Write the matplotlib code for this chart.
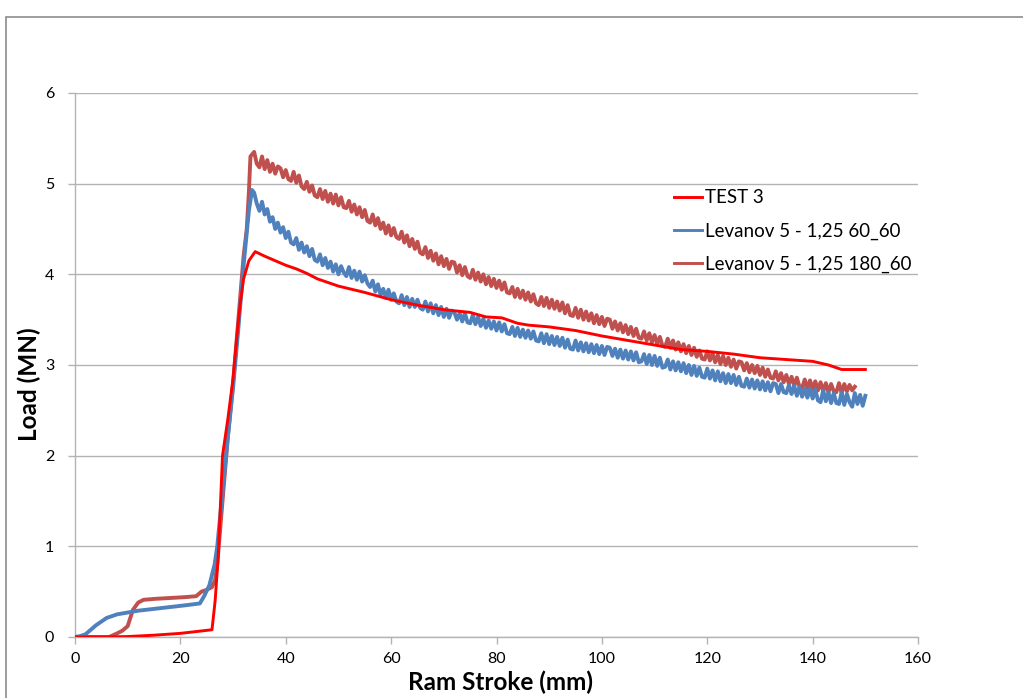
import numpy as np
import matplotlib
matplotlib.use("Agg")
import matplotlib.pyplot as plt
from matplotlib.patches import Rectangle

# ---- data ----
series_names = ["TEST 3", "Levanov 5 - 1,25 60_60", "Levanov 5 - 1,25 180_60"]

# TEST 3 (smooth measured curve)
test_x = [0, 5, 10, 15, 20, 26, 26.6, 27.2, 28, 29, 30, 30.7, 31.3, 32, 33, 34.2,
          36, 38, 40, 42, 44, 46, 48, 50, 55, 60, 65, 70, 75, 78, 81, 84, 86,
          90, 95, 100, 105, 110, 115, 120, 125, 130, 135, 140, 143, 145.5, 148, 150]
test_y = [0, 0, 0.005, 0.02, 0.04, 0.08, 0.4, 0.9, 2.0, 2.4, 2.85, 3.3, 3.65, 3.95, 4.15, 4.25,
          4.2, 4.15, 4.1, 4.06, 4.01, 3.95, 3.91, 3.87, 3.8, 3.72, 3.66, 3.61, 3.58, 3.53, 3.52, 3.46, 3.44,
          3.42, 3.38, 3.32, 3.27, 3.22, 3.17, 3.15, 3.12, 3.08, 3.06, 3.04, 3.0, 2.95, 2.95, 2.95]

# Levanov 60_60: loading part up to the peak
blue_rise_x = [0, 1, 2, 3, 4, 5, 6, 8, 10, 12, 15, 18, 21, 23.7, 24.5, 25.5, 26.5,
               27, 28, 29, 30, 31, 32, 33, 33.6]
blue_rise_y = [0, 0.01, 0.03, 0.08, 0.13, 0.17, 0.21, 0.25, 0.27, 0.29, 0.31, 0.33, 0.35, 0.37, 0.45, 0.57, 0.8,
               1.0, 1.6, 2.2, 2.75, 3.4, 4.1, 4.7, 4.93]
# noisy part, sampled every 0.5 mm from 34 to 150
blue_noisy = [
    4.90, 4.78, 4.70, 4.80, 4.66, 4.72, 4.58, 4.63, 4.50, 4.57,
    4.46, 4.52, 4.40, 4.47, 4.35, 4.33, 4.40, 4.27, 4.35, 4.24,
    4.31, 4.20, 4.28, 4.16, 4.14, 4.22, 4.10, 4.18, 4.07, 4.14,
    4.03, 4.11, 4.00, 4.09, 4.02, 3.98, 4.08, 3.96, 4.04, 3.94,
    4.03, 3.92, 3.99, 3.90, 3.86, 3.93, 3.81, 3.89, 3.77, 3.84,
    3.74, 3.83, 3.72, 3.79, 3.70, 3.68, 3.77, 3.66, 3.75, 3.64,
    3.73, 3.64, 3.72, 3.63, 3.61, 3.70, 3.59, 3.68, 3.57, 3.66,
    3.55, 3.64, 3.53, 3.62, 3.52, 3.60, 3.58, 3.50, 3.57, 3.48,
    3.57, 3.47, 3.46, 3.55, 3.45, 3.53, 3.43, 3.51, 3.41, 3.49,
    3.40, 3.48, 3.38, 3.47, 3.37, 3.45, 3.35, 3.34, 3.42, 3.32,
    3.41, 3.31, 3.39, 3.30, 3.38, 3.29, 3.37, 3.27, 3.26, 3.35,
    3.24, 3.34, 3.23, 3.32, 3.22, 3.31, 3.21, 3.30, 3.19, 3.28,
    3.18, 3.17, 3.27, 3.16, 3.25, 3.15, 3.24, 3.14, 3.23, 3.13,
    3.22, 3.12, 3.21, 3.11, 3.20, 3.19, 3.10, 3.18, 3.08, 3.17,
    3.07, 3.16, 3.06, 3.15, 3.05, 3.14, 3.03, 3.04, 3.12, 3.01,
    3.11, 3.00, 3.10, 2.99, 3.08, 2.97, 2.98, 3.06, 2.95, 3.04,
    2.94, 3.03, 2.93, 3.02, 2.91, 3.00, 2.89, 2.99, 2.88, 2.97,
    2.87, 2.86, 2.96, 2.85, 2.94, 2.83, 2.93, 2.82, 2.91, 2.80,
    2.90, 2.80, 2.89, 2.78, 2.87, 2.77, 2.76, 2.85, 2.75, 2.84,
    2.74, 2.83, 2.73, 2.82, 2.72, 2.81, 2.71, 2.80, 2.79, 2.69,
    2.79, 2.70, 2.69, 2.78, 2.68, 2.77, 2.66, 2.76, 2.65, 2.74,
    2.64, 2.74, 2.63, 2.73, 2.61, 2.59, 2.72, 2.60, 2.70, 2.58,
    2.69, 2.58, 2.57, 2.70, 2.56, 2.68, 2.59, 2.54, 2.69, 2.57,
    2.67, 2.55, 2.66,
]

# Levanov 180_60: loading part up to the peak
brown_rise_x = [0, 6.5, 8, 9, 10, 11, 12, 13, 15, 18, 21, 23, 24, 25, 26, 26.6,
                27, 28, 29, 30, 31, 32, 32.6, 33, 33.3]
brown_rise_y = [0, 0, 0.04, 0.07, 0.12, 0.3, 0.38, 0.41, 0.42, 0.43, 0.44, 0.45, 0.5, 0.52, 0.55, 0.63,
                0.8, 1.5, 2.2, 2.8, 3.5, 4.2, 4.5, 4.9, 5.3]
# noisy part, sampled every 0.5 mm from 34 to 148
brown_noisy = [
    5.35, 5.22, 5.18, 5.30, 5.16, 5.26, 5.13, 5.22, 5.11, 5.19,
    5.17, 5.07, 5.15, 5.05, 5.03, 5.13, 5.01, 5.09, 4.97, 4.94,
    5.02, 4.91, 4.98, 4.87, 4.85, 4.94, 4.83, 4.92, 4.80, 4.89,
    4.78, 4.88, 4.76, 4.85, 4.74, 4.73, 4.81, 4.69, 4.77, 4.66,
    4.74, 4.63, 4.71, 4.59, 4.57, 4.66, 4.54, 4.62, 4.50, 4.57,
    4.45, 4.54, 4.43, 4.51, 4.41, 4.39, 4.47, 4.35, 4.43, 4.31,
    4.39, 4.28, 4.36, 4.24, 4.22, 4.30, 4.18, 4.26, 4.15, 4.23,
    4.11, 4.20, 4.09, 4.17, 4.06, 4.14, 4.13, 4.02, 4.10, 3.99,
    4.08, 3.98, 3.96, 4.05, 3.94, 4.02, 3.92, 4.00, 3.89, 3.97,
    3.87, 3.95, 3.85, 3.93, 3.83, 3.91, 3.80, 3.79, 3.86, 3.75,
    3.84, 3.74, 3.82, 3.72, 3.80, 3.70, 3.78, 3.68, 3.66, 3.75,
    3.65, 3.74, 3.63, 3.72, 3.62, 3.70, 3.60, 3.69, 3.57, 3.66,
    3.55, 3.54, 3.63, 3.52, 3.61, 3.50, 3.59, 3.49, 3.57, 3.46,
    3.55, 3.45, 3.53, 3.43, 3.51, 3.50, 3.40, 3.48, 3.38, 3.46,
    3.36, 3.44, 3.34, 3.42, 3.32, 3.40, 3.30, 3.29, 3.37, 3.27,
    3.35, 3.25, 3.33, 3.23, 3.31, 3.21, 3.20, 3.29, 3.19, 3.27,
    3.17, 3.25, 3.15, 3.23, 3.13, 3.21, 3.11, 3.19, 3.09, 3.16,
    3.07, 3.06, 3.15, 3.05, 3.13, 3.03, 3.11, 3.01, 3.10, 3.00,
    3.08, 2.98, 3.06, 2.96, 3.04, 3.03, 2.94, 3.02, 2.92, 3.00,
    2.91, 2.99, 2.89, 2.97, 2.87, 2.95, 2.86, 2.85, 2.93, 2.83,
    2.91, 2.81, 2.89, 2.79, 2.87, 2.77, 2.86, 2.76, 2.75, 2.84,
    2.74, 2.83, 2.73, 2.82, 2.72, 2.81, 2.71, 2.80, 2.70, 2.79,
    2.71, 2.70, 2.80, 2.69, 2.79, 2.71, 2.78, 2.72, 2.76,
]

x_ticks = [0, 20, 40, 60, 80, 100, 120, 140, 160]
y_ticks = [0, 1, 2, 3, 4, 5, 6]

# assemble full series (sample grid for the noisy parts is 0.5 mm)
blue_x = blue_rise_x + list(34 + 0.5 * np.arange(len(blue_noisy)))
blue_y = blue_rise_y + blue_noisy
brown_x = brown_rise_x + list(34 + 0.5 * np.arange(len(brown_noisy)))
brown_y = brown_rise_y + brown_noisy

plt.rcParams['font.family'] = ['Lato', 'DejaVu Sans']

fig = plt.figure(figsize=(10.23, 6.98), dpi=100)
ax = fig.add_axes([0.0733, 0.0874, 0.8241, 0.7794])

# outer chart-area border (Excel style)
fig.patches.append(Rectangle((0.006, -0.1), 1.2, 1.0756, transform=fig.transFigure,
                             fill=False, edgecolor='#8c8c8c', linewidth=1.2))

ax.plot(test_x, test_y, color='#FF0000', lw=2.1, label=series_names[0], zorder=4)
ax.plot(blue_x, blue_y, color='#4F81BD', lw=2.8, label=series_names[1], zorder=3)
ax.plot(brown_x, brown_y, color='#C0504D', lw=2.8, label=series_names[2], zorder=2)

ax.set_xlim(0, 160)
ax.set_ylim(0, 6)
ax.set_xticks(x_ticks)
ax.set_yticks(y_ticks)
ax.grid(axis='y', color='#b3b3b3', lw=1)
ax.set_axisbelow(True)

for side in ['top', 'right']:
    ax.spines[side].set_visible(False)
for side in ['left', 'bottom']:
    ax.spines[side].set_color('#b3b3b3')
    ax.spines[side].set_linewidth(1)

ax.tick_params(axis='both', colors='#b3b3b3', labelcolor='black', labelsize=11.5,
               length=5, width=1)
ax.tick_params(axis='x', pad=6)
ax.tick_params(axis='y', pad=10)

ax.set_xlabel('Ram Stroke (mm)', fontsize=17.5, fontweight='bold')
ax.set_ylabel('Load (MN)', fontsize=17.5, fontweight='bold')
ax.xaxis.set_label_coords(0.505, -0.062)
ax.yaxis.set_label_coords(-0.040, 0.465)

# legend handles: narrow lines, lower lw for the legend entries
leg = ax.legend(loc='upper left', bbox_to_anchor=(0.710, 0.823), frameon=False,
                fontsize=13.5, handlelength=1.5, handletextpad=0.2, labelspacing=0.86,
                borderaxespad=0, borderpad=0)
for h in leg.get_lines():
    h.set_linewidth(2.1)

fig.savefig('out.png', dpi=100)
